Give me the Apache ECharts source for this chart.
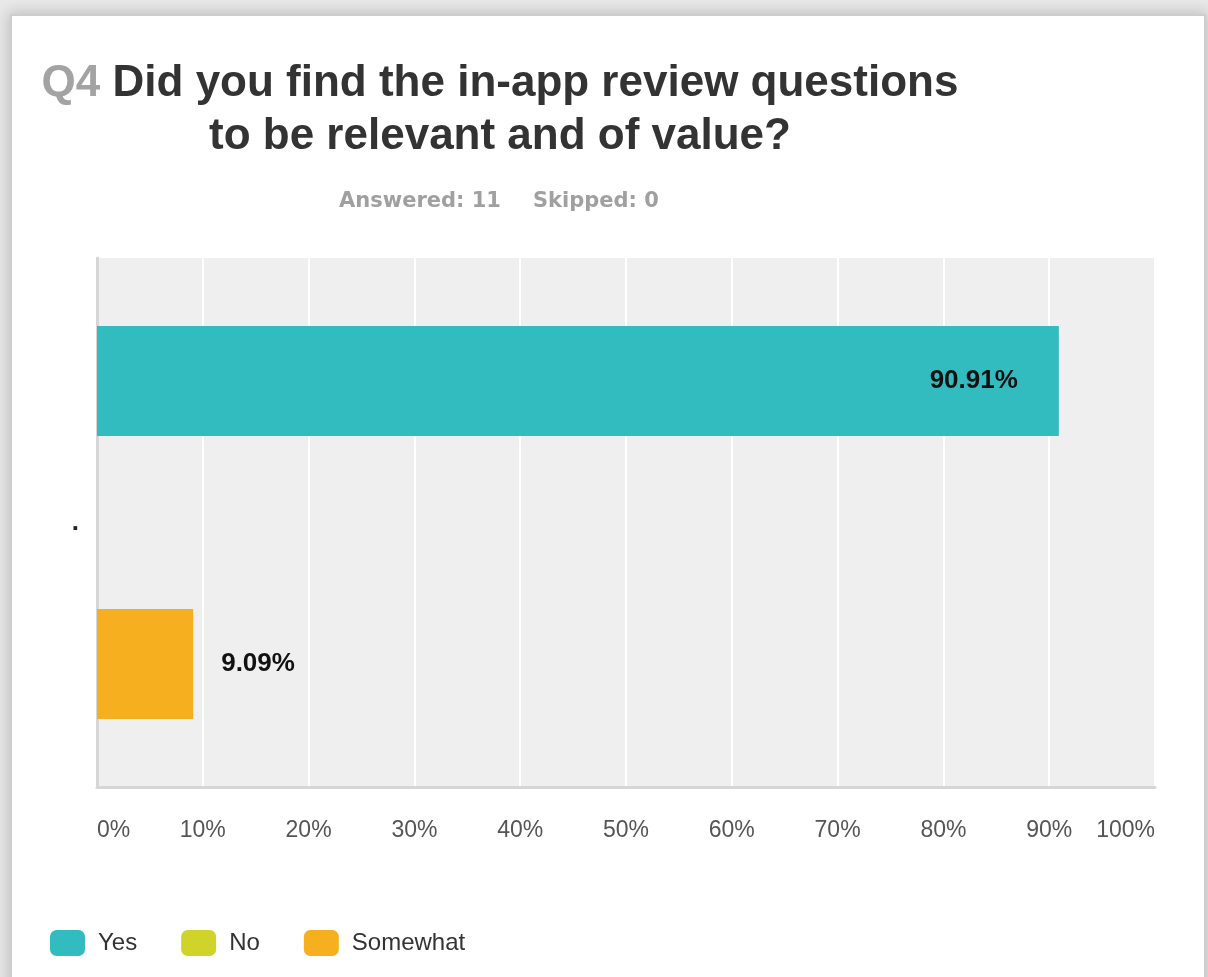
<!DOCTYPE html>
<html>
<head>
<meta charset="utf-8">
<script src="https://cdn.jsdelivr.net/npm/echarts@6/dist/echarts.min.js"></script>
<style>
  html, body { margin: 0; padding: 0; width: 1208px; height: 977px; overflow: hidden; background: #e9e9e9; }
  #panel { position: absolute; left: 12px; top: 16px; width: 1192px; height: 1000px; background: #ffffff;
           box-shadow: 0 0 0 2px #cdcdcd, 0 0 14px 4px rgba(0,0,0,0.18); }
  #chart { position: absolute; left: 0; top: 0; width: 1208px; height: 977px; }
</style>
</head>
<body>
<div id="panel"></div>
<div id="chart"></div>
<script>
// Survey question Q4 — share of respondents per answer
const categories = ['.'];
const answerNames = ['Yes', 'No', 'Somewhat'];
const yesValues = [90.91];
const noValues = [0];
const somewhatValues = [9.09];
const answerColors = ['#33bcbf', '#d0d42a', '#f5af1f'];
const xTicks = { min: 0, max: 100, interval: 10 };

const FONT = '"Liberation Sans", Arial, sans-serif';
const WIDE_FONT = '"DejaVu Sans", Verdana, sans-serif';

const chart = echarts.init(document.getElementById('chart'), null, { renderer: 'canvas' });

function barSeries(name, data, color, label) {
  return {
    name: name,
    type: 'bar',
    data: data,
    barWidth: 110,
    barGap: '28.6%',
    itemStyle: { color: color },
    label: label,
    emphasis: { disabled: true }
  };
}

const valueLabel = {
  show: true,
  formatter: p => p.value.toFixed(2) + '%',
  fontFamily: FONT,
  fontWeight: 'bold',
  fontSize: 26,
  color: '#111111'
};

chart.setOption({
  backgroundColor: 'transparent',
  animation: false,
  title: [
    {
      text: '{q|Q4} {t|Did you find the in-app review questions}\n{t|to be relevant and of value?}',
      left: 495,
      top: 52,
      textAlign: 'center',
      textStyle: {
        fontFamily: FONT, fontSize: 44, fontWeight: 'bold', color: '#333333', lineHeight: 53, align: 'center',
        rich: {
          q: { fontFamily: FONT, fontSize: 44, fontWeight: 'bold', color: '#a3a3a3', lineHeight: 53, align: 'center' },
          t: { fontFamily: FONT, fontSize: 44, fontWeight: 'bold', color: '#333333', lineHeight: 53, align: 'center' }
        }
      }
    },
    {
      text: '{a|Answered: 11}{b|Skipped: 0}',
      left: 494,
      top: 186,
      textAlign: 'center',
      textStyle: {
        rich: {
          a: { fontFamily: WIDE_FONT, fontSize: 21, fontWeight: 'bold', color: '#a0a0a0' },
          b: { fontFamily: WIDE_FONT, fontSize: 21, fontWeight: 'bold', color: '#a0a0a0', padding: [0, 0, 0, 32] }
        }
      }
    }
  ],
  legend: {
    data: answerNames,
    left: 45,
    top: 925,
    orient: 'horizontal',
    icon: 'roundRect',
    itemWidth: 35,
    itemHeight: 26,
    itemGap: 44,
    selectedMode: false,
    textStyle: { fontFamily: FONT, fontSize: 24, color: '#333333', padding: [0, 0, 0, 8] }
  },
  grid: {
    left: 97, right: 53, top: 258, bottom: 190,
    show: true, backgroundColor: '#efefef', borderWidth: 0
  },
  xAxis: {
    type: 'value',
    min: xTicks.min,
    max: xTicks.max,
    interval: xTicks.interval,
    axisLine: { show: true, lineStyle: { color: '#d6d6d6', width: 3 } },
    axisTick: { show: false },
    splitLine: { show: true, lineStyle: { color: '#ffffff', width: 2 } },
    axisLabel: {
      formatter: '{value}%',
      fontFamily: FONT, fontSize: 23, color: '#555555',
      margin: 32,
      alignMinLabel: 'left',
      alignMaxLabel: 'right'
    }
  },
  yAxis: {
    type: 'category',
    data: categories,
    inverse: true,
    axisLine: { show: true, lineStyle: { color: '#d6d6d6', width: 3 } },
    axisTick: { show: false },
    axisLabel: { fontFamily: FONT, fontSize: 26, fontWeight: 'bold', color: '#222222', margin: 18, padding: [0, 0, 0, 0] }
  },
  series: [
    barSeries(answerNames[0], yesValues, answerColors[0], Object.assign({}, valueLabel, { position: 'insideRight', distance: 41 })),
    barSeries(answerNames[1], noValues, answerColors[1], { show: false }),
    barSeries(answerNames[2], somewhatValues, answerColors[2], Object.assign({}, valueLabel, { position: 'right', distance: 28 }))
  ]
});
</script>
</body>
</html>
